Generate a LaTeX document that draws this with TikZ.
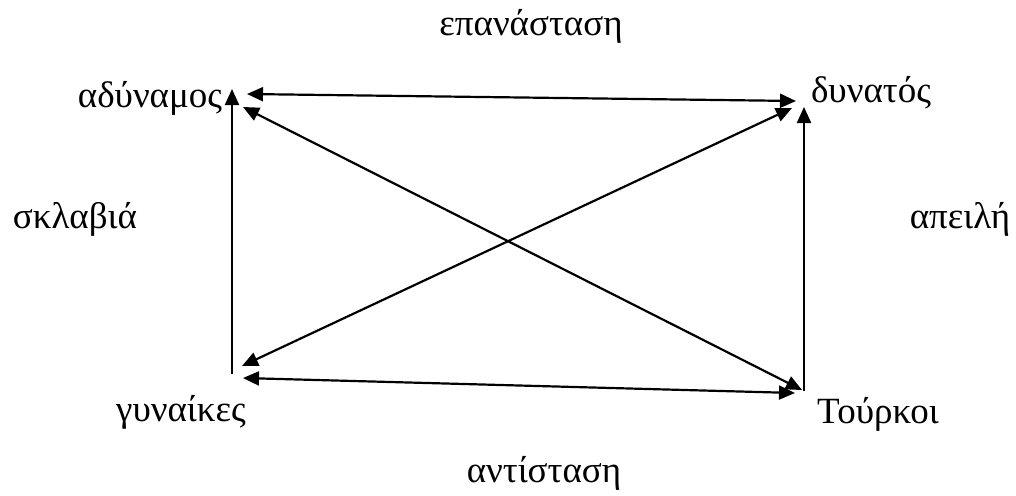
\documentclass[tikz,border=0pt]{standalone}
\usepackage{fontspec}
\setmainfont{Liberation Serif}
\usetikzlibrary{arrows.meta}
\begin{document}
\begin{tikzpicture}[x=1pt,y=-1pt,
  lbl/.style={font=\fontsize{37}{44}\selectfont, inner sep=0pt, anchor=base},
  conn/.style={line width=2.2pt, {Triangle[length=16pt,width=14pt]}-{Triangle[length=16pt,width=14pt]}},
  oneway/.style={line width=2.2pt, -{Triangle[length=16pt,width=14pt]}}]
\useasboundingbox (0,0) rectangle (1016,495);
\fill[white] (0,0) rectangle (1016,495);
% labels
\node[lbl] (rev) at (531,36) {επανάσταση};
\node[lbl] (weak) at (150,107) {αδύναμος};
\node[lbl] (strong) at (871,102) {δυνατός};
\node[lbl] (slav) at (75,228) {σκλαβιά};
\node[lbl] (threat) at (960,228) {απειλή};
\node[lbl] (women) at (181,421) {γυναίκες};
\node[lbl] (turks) at (878,423) {Τούρκοι};
\node[lbl] (resist) at (544,482) {αντίσταση};
% endpoints
\coordinate (tl) at (247,94);
\coordinate (tr) at (796,101);
\coordinate (lvt) at (232,89);
\coordinate (lvb) at (232,374);
\coordinate (rvt) at (804,107);
\coordinate (rvb) at (804,391);
\coordinate (da1) at (243,107);
\coordinate (da2) at (802,390);
\coordinate (db1) at (242,366);
\coordinate (db2) at (792,108);
\coordinate (bl) at (243,378);
\coordinate (br) at (795,393);
% connectors
\draw[conn] (tl) -- (tr);
\draw[oneway] (lvb) -- (lvt);
\draw[oneway] (rvb) -- (rvt);
\draw[conn] (da1) -- (da2);
\draw[conn] (db1) -- (db2);
\draw[conn] (bl) -- (br);
\end{tikzpicture}
\end{document}
